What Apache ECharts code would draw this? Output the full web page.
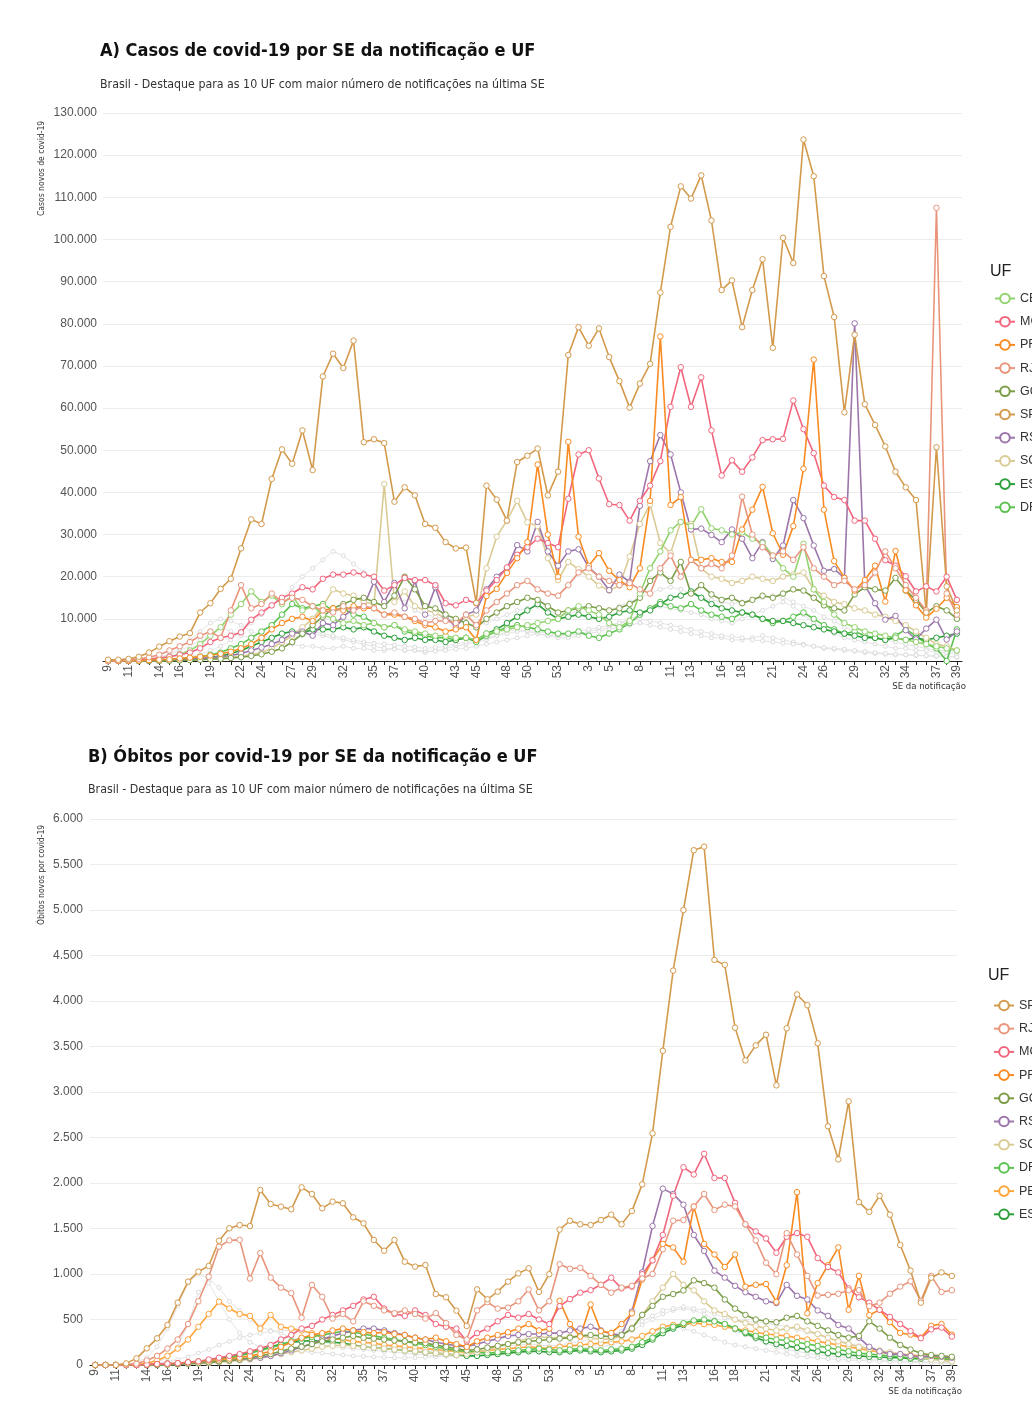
<!DOCTYPE html>
<html><head><meta charset="utf-8">
<script src="https://cdn.jsdelivr.net/npm/echarts@6/dist/echarts.min.js"></script>
<style>
html,body{margin:0;padding:0;background:#fff;}
#a{position:absolute;left:0;top:0;width:1032px;height:709px;}
#b{position:absolute;left:0;top:709px;width:1032px;height:709px;}
</style>
</head><body><div id="a"></div><div id="b"></div>
<script>
// ---- categories (epidemiological weeks) ----
const weeks2020 = [9,10,11,12,13,14,15,16,17,18,19,20,21,22,23,24,25,26,27,28,29,30,31,32,33,34,35,36,37,38,39,40,41,42,43,44,45,46,47,48,49,50,51,52,53];
const weeks2021 = [1,2,3,4,5,6,7,8,9,10,11,12,13,14,15,16,17,18,19,20,21,22,23,24,25,26,27,28,29,30,31,32,33,34,35,36,37,38,39];
const tickLabels2020 = [9,11,14,16,19,22,24,27,29,32,35,37,40,43,45,48,50,53];
const tickLabels2021 = [3,5,8,11,13,16,18,21,24,26,29,32,34,37,39];
const yTicksCasos = [0,10000,130000];
const yTicksObitos = [0,500,6000];

// ---- A) Casos ----
const casosCE = [0,0,50,100,300,600,1000,1600,2500,4000,6000,8000,11000,13500,16500,14000,15500,13500,15500,12000,13000,11000,10000,9000,9500,8500,9000,8000,8500,7500,7000,6500,6000,6000,5500,5500,5000,6500,7000,7500,8000,8500,9000,9500,10000,
 12000,13000,12000,11000,9000,8000,9500,16000,22000,26000,31000,33000,32000,36000,31500,31000,30000,30500,29000,28000,25000,22000,20000,27800,17000,14000,11000,9000,8000,7000,6500,6000,5500,5000,4500,4000,3500,3000,2500];
const casosMG = [0,0,100,200,400,700,1000,1500,2000,3000,4500,5500,6000,6800,9800,11500,13200,15000,16000,17500,17000,19500,20500,20500,21000,20500,20000,16700,18000,19700,19200,19200,18000,13700,13200,14500,13700,16700,19200,22200,25200,27000,29000,28000,27000,
 38500,49000,50000,43300,37200,37000,33300,38000,41600,47400,60300,69700,60300,67300,54700,44000,47600,44900,48300,52400,52600,52700,61800,55000,49300,41600,38900,38200,33300,33300,29000,23900,22600,20100,16500,17700,16500,20000,14500];
const casosPR = [0,0,50,100,200,300,400,600,800,1000,1300,1700,2200,3000,4000,5500,7500,9000,10000,10500,9500,12000,12500,12000,13000,12500,12500,11000,11000,10500,9500,8500,8000,7000,7500,8000,5000,15400,17100,20900,24400,28200,46600,30000,20000,
 52000,29500,22600,25600,21400,19200,17500,22000,38000,77000,37000,38900,24000,24000,24400,23500,23500,31200,35900,41300,30300,25200,32000,45600,71500,35900,23700,19700,16700,19200,22600,14100,26100,16800,13200,10300,12400,15000,12800];
const casosRJ = [0,100,200,500,900,1500,2500,3500,4500,6000,7000,5500,12000,18000,12500,13500,16000,14000,15000,14500,13000,12000,11500,13000,12000,13000,12500,11000,11500,10500,10000,9000,9500,9500,9000,11000,8500,12000,14000,16000,18000,19000,17000,16000,15500,
 18000,21000,22000,20000,19000,18000,18500,17000,16000,22000,25000,20000,24000,22000,23000,22000,25000,39000,30000,27000,25000,26000,24000,27000,22000,20000,18000,19000,17000,18000,21000,26000,22000,18000,15000,12000,107500,16000,11000];
const casosGO = [0,0,0,0,0,50,100,150,200,300,400,500,700,900,1200,1600,2200,3000,4500,6500,8500,10500,12500,13500,14500,15000,14000,13000,15500,20000,17000,13000,12500,11000,10000,9000,8000,10000,11500,13000,14000,15000,14500,13000,11500,
 12000,12500,13000,12500,12000,12500,13500,15000,19000,21000,19000,23500,16000,18000,15800,14500,15000,13700,14500,15500,15000,16000,17000,16700,15000,13200,12500,12000,15800,17500,17000,16700,19700,16700,14500,11500,13000,12000,10000];
const casosSP = [300,300,500,1000,2000,3400,4700,5800,6600,11500,13700,17100,19500,26700,33600,32500,43200,50200,46800,54700,45300,67500,72900,69500,76000,51900,52600,51700,37800,41200,39300,32500,31600,28200,26700,26900,13800,41600,38300,33300,47200,48700,50400,39300,44900,
 72600,79200,74800,78900,72100,66400,60100,65800,70500,87400,103000,112600,109700,115200,104500,88000,90300,79200,88000,95300,74300,100400,94400,123700,115000,91300,81600,59000,77400,60900,56000,50900,44900,41200,38200,11500,50700,17700,12000];
const casosRS = [0,0,0,50,100,150,200,300,400,600,800,1000,1300,1800,2500,3200,4000,5000,6500,7000,6000,9000,8500,10500,12500,13000,18800,14000,18500,12500,19000,11000,17500,10500,8000,11000,12000,17000,20000,22000,27500,26000,33000,26000,22600,
 26000,26500,22200,20000,16800,20500,18800,36800,47400,53600,49000,40000,31200,31400,29900,28200,31200,29000,24400,28200,24200,27400,38200,33900,27400,21400,21800,19700,80100,18000,13700,9800,10700,7300,5100,7700,9800,5100,7000];
const casosSC = [0,0,0,0,50,100,150,200,300,400,500,700,900,1200,1500,2000,3000,4500,6000,8000,10000,13000,17000,16000,15500,14000,13500,42000,14000,16500,13000,12000,11500,10000,9000,10500,11000,22000,29500,33300,38000,32900,32000,24400,19200,
 23500,21800,20000,17900,16700,17900,24800,32500,37200,28000,25600,33000,32500,22000,20000,19500,18500,19000,20000,19500,19000,20000,20500,21000,17000,15500,14000,13500,12500,12000,11000,10500,9500,8500,7000,5500,4000,3500,2500];
const casosES = [0,0,0,0,0,50,100,200,300,500,800,1200,1800,2500,3500,4500,5500,6500,7000,6500,7500,7500,7500,8000,7500,8000,7000,6000,5500,5000,5500,5000,5000,4500,5000,5500,5000,6500,7500,9000,10500,12000,13500,11500,10000,
 10500,11000,10500,10000,10500,11500,12000,11500,12000,13500,15000,15500,16500,15000,13500,12500,12000,11500,11000,10000,9500,9500,9000,8500,8000,7500,7000,6500,6000,5500,5500,5000,5500,5000,5500,5000,5500,6000,6500];
const casosDF = [0,0,0,50,100,200,300,500,700,1000,1500,2000,3000,4000,5500,7000,8500,11000,13500,12500,13000,13500,12000,12500,11000,10500,9000,8000,8500,7000,6500,6000,5500,5500,5000,5500,4500,6000,7000,8000,8500,8000,7500,7000,6500,
 6500,7000,6000,5500,6500,7500,9000,11000,12500,14000,13000,12500,13500,12000,11000,10500,10000,11500,11000,10000,9000,9500,10500,11500,10000,8500,7500,6500,7000,6000,5500,5000,6000,7500,6000,4000,3000,0,7500];
// other UF (grey background)
const casosBA = [0,0,0,0,100,200,400,700,1000,1500,2500,3500,5000,7000,9000,11000,13000,15000,17500,20000,22000,24000,26000,25000,23000,21000,19000,17000,15000,14000,12000,11000,10500,10000,9500,9000,8500,9000,10000,11000,12000,12500,13000,12000,11000,
 11000,12000,13000,12500,12000,13000,14000,15000,16000,17000,17500,17000,16000,15000,14500,14000,13500,14000,14500,15000,15500,15000,14000,13000,12000,10500,9500,8000,7000,6000,5500,5000,4500,4000,3500,3000,2500,2500,2000];
const casosPE = [0,0,100,300,600,1000,1500,2500,3500,5000,6500,8000,7000,6000,5500,5000,4500,4000,4000,3500,3500,3000,3000,3500,3000,3000,2500,2500,3000,2500,2500,2000,2500,3000,3500,4000,4500,5000,6000,7000,7500,7000,6500,6000,6000,
 6000,6500,7000,7500,8000,9000,10000,11000,12000,13000,12500,12000,11500,11000,10000,9500,9000,10000,11000,12000,13000,14000,13000,11000,9000,7500,6500,5500,5000,4500,4000,3500,3000,3000,2500,2500,2000,2000,1500];
const casosPA = [0,0,0,100,300,700,1500,3000,5000,7000,9000,10000,9500,8500,7000,6000,5500,5000,5500,6000,6500,6000,5500,5000,4500,4000,3500,3000,2800,2600,2500,2400,2300,2500,2800,3000,3500,4000,4500,5000,5500,6000,6500,6000,5500,
 5500,6000,6500,7000,7500,8000,8500,9000,8500,8000,7500,7000,6500,6000,5500,5500,5000,5000,5500,6000,5500,5000,4500,4000,3500,3000,2800,2500,2300,2000,1800,1600,1500,1400,1300,1200,1100,1000,900];
const casosMT = [0,0,0,0,0,50,100,200,300,500,800,1200,1800,2500,3500,4500,5500,6500,7000,7500,7000,6500,6000,5500,5000,4500,4200,4000,3800,3500,3300,3000,3200,3500,4000,4500,5000,5500,6000,6500,7000,7200,7000,6500,6000,
 6500,7000,7500,8000,8500,9000,9500,10000,9500,9000,8500,8000,7500,7000,6500,6000,5800,5500,5000,4800,4500,4200,4000,3800,3500,3200,3000,2800,2500,2300,2000,1800,1600,1500,1400,1300,1200,1100,1000];

// ---- B) Óbitos ----
const obitosSP = [0,0,0,18,73,183,293,440,685,916,1026,1088,1366,1502,1538,1527,1923,1769,1740,1711,1952,1879,1722,1795,1777,1623,1557,1374,1256,1374,1135,1081,1099,780,744,597,429,831,722,806,916,1007,1062,803,998,
 1488,1585,1546,1539,1593,1652,1546,1691,1985,2545,3453,4334,5000,5657,5696,4451,4397,3707,3347,3512,3629,3073,3700,4072,3954,3535,2623,2259,2897,1789,1683,1860,1652,1319,1037,685,959,1018,979];
const obitosRJ = [0,0,0,5,15,50,100,180,280,450,700,970,1300,1370,1375,950,1230,960,850,790,520,880,750,510,560,480,700,650,600,570,600,560,510,570,460,330,280,600,690,620,630,700,830,600,700,
 1108,1057,1068,979,881,795,850,870,950,1000,1272,1585,1593,1742,1879,1703,1762,1742,1546,1370,1124,998,1449,1214,979,763,771,783,822,822,646,685,783,861,920,705,979,803,822];
const obitosMG = [0,0,0,0,0,5,10,15,20,30,40,60,80,100,120,150,180,220,280,330,400,430,500,550,600,650,720,750,620,560,540,600,550,450,420,400,260,350,400,480,550,520,560,500,450,
 646,724,795,822,881,959,842,861,998,1150,1429,1860,2173,2094,2321,2055,2055,1781,1546,1468,1390,1233,1409,1449,1409,1174,1077,1018,842,744,685,607,528,450,372,294,391,411,313];
const obitosPR = [0,0,0,0,0,5,10,15,20,30,40,50,60,70,80,100,120,150,200,250,300,330,350,380,400,380,360,350,360,340,330,300,280,300,260,230,200,260,300,330,360,400,450,380,400,
 705,450,313,665,372,352,450,568,940,1155,1331,1292,1135,1742,1331,1214,1077,1214,861,881,889,693,1096,1899,568,900,1096,1292,607,979,548,607,470,352,333,301,430,450,333];
const obitosGO = [0,0,0,0,0,0,0,5,10,15,20,30,40,50,60,80,100,120,150,180,200,230,260,280,300,320,300,290,280,270,260,250,240,220,200,180,160,170,190,210,230,250,260,270,280,
 290,300,320,330,320,310,330,400,550,650,750,780,820,930,900,850,720,620,550,500,480,470,520,540,480,430,380,330,300,320,480,400,300,220,170,130,110,100,90];
const obitosRS = [0,0,0,0,0,0,5,10,15,20,25,30,40,50,60,70,80,100,130,160,200,230,280,320,350,380,400,400,380,350,330,300,280,250,230,210,200,230,260,290,320,330,340,340,350,
 350,380,400,420,380,340,330,587,1018,1527,1938,1879,1762,1429,1253,1037,960,870,800,750,700,680,880,760,720,600,540,440,400,300,200,150,120,120,100,90,100,90,80];
const obitosSC = [0,0,0,0,0,0,0,0,5,10,15,20,30,40,50,60,80,100,120,140,160,180,200,210,220,210,200,190,180,170,160,150,140,130,120,110,120,140,170,200,230,260,290,310,300,
 300,310,320,300,280,290,320,400,550,700,850,1000,880,820,700,600,560,500,460,430,400,380,400,420,380,340,300,260,230,200,180,160,140,120,100,80,60,50,40];
const obitosDF = [0,0,0,0,0,5,10,15,20,30,40,50,60,80,100,130,160,190,220,260,290,310,330,350,370,360,340,320,300,280,260,240,220,200,180,160,150,140,130,140,150,160,170,180,170,
 160,170,180,170,160,170,180,200,250,300,380,420,460,490,500,480,450,400,360,320,300,280,270,250,230,210,190,170,150,130,120,110,100,90,80,80,70,70,60];
const obitosPE = [0,0,0,0,5,20,50,100,180,280,420,560,696,620,560,540,400,550,420,400,380,350,300,290,280,260,250,240,220,210,200,190,180,170,160,150,140,150,160,170,180,190,200,190,180,
 200,210,220,230,240,250,260,280,320,370,420,440,450,460,450,440,420,400,380,360,340,330,320,300,280,260,240,220,200,180,160,140,130,120,110,100,90,80,70];
const obitosES = [0,0,0,0,0,0,0,5,10,20,30,50,70,90,110,140,170,200,230,250,260,270,260,250,240,220,200,190,180,170,160,150,140,130,120,110,100,100,110,120,130,140,150,150,140,
 140,150,160,150,140,150,160,180,220,280,350,400,440,470,490,480,450,400,350,300,260,230,210,190,170,150,130,120,110,100,90,90,80,80,70,70,70,60,60];
// other UF (grey background)
const obitosCE = [0,0,0,10,30,80,200,400,650,900,1000,950,850,700,600,500,420,380,350,300,280,250,220,200,190,180,170,160,150,140,130,120,110,100,100,100,110,120,130,140,150,160,170,160,150,
 150,160,180,200,230,270,320,380,440,500,560,600,620,600,560,500,440,380,330,280,240,200,170,150,130,110,100,90,80,70,60,55,50,45,40,35,30,30,25];
const obitosBA = [0,0,0,0,5,10,20,40,60,90,130,170,220,260,300,330,350,370,380,380,370,350,330,300,280,260,240,220,200,190,180,170,160,150,150,160,170,180,190,200,210,220,230,220,210,
 220,240,260,280,300,330,370,420,480,540,600,620,640,620,600,560,520,500,480,470,460,440,420,390,360,330,300,270,240,210,180,160,140,120,100,90,80,70,60];
const obitosPA = [0,0,0,0,0,10,30,80,200,450,800,900,700,500,350,250,200,180,170,160,150,140,130,120,110,100,95,90,85,80,80,80,85,90,95,100,110,120,130,140,150,160,170,160,150,
 150,160,170,180,200,220,250,280,320,360,400,420,400,370,330,290,250,220,200,180,160,140,120,100,90,80,70,60,55,50,45,40,35,30,30,25,25,20,20];

const COLORS = {CE:'#93d36f', MG:'#f2667d', PR:'#f98b22', RJ:'#e8957c', GO:'#7b9d47', SP:'#d39a4c', RS:'#9c76aa', SC:'#dacb95', ES:'#2d9f3a', DF:'#5cc24f', PE:'#ffa53c'};
const GREY = '#e4e4e4';
const FONT_T = "'DejaVu Sans Condensed','Liberation Sans Narrow',sans-serif";
const FONT = "'Liberation Sans',Arial,sans-serif";

const categories = weeks2020.map(w => '2020-' + w).concat(weeks2021.map(w => '2021-' + w));
const shown = new Set(tickLabels2020.map(w => '2020-' + w).concat(tickLabels2021.map(w => '2021-' + w)));
const fmtNum = v => String(v).replace(/\B(?=(\d{3})+(?!\d))/g, '.');

function lineSeries(name, data, color, grey) {
  return {
    type: 'line', name: name, data: data, symbol: 'circle',
    symbolSize: grey ? 4 : 5.5, showSymbol: true, silent: true,
    lineStyle: {width: grey ? 1 : 1.6, color: color},
    itemStyle: {color: '#fff', borderColor: grey ? '#dcdcdc' : color, borderWidth: 1},
    emphasis: {disabled: true}, z: grey ? 1 : 3, animation: false
  };
}

function buildOption(cfg) {
  return {
    animation: false,
    backgroundColor: '#fff',
    title: [
      {text: cfg.title, left: cfg.titleLeft, top: cfg.titleTop, padding: 0, textStyle: {fontFamily: FONT_T, fontWeight: 'bold', fontSize: 18, color: '#111'}},
      {text: cfg.subtitle, left: cfg.titleLeft, top: cfg.subTop, padding: 0, textStyle: {fontFamily: FONT_T, fontWeight: 'normal', fontSize: 12.3, color: '#333'}}
    ],
    grid: {left: cfg.gridLeft, right: cfg.gridRight, top: cfg.gridTop, bottom: cfg.gridBottom, containLabel: false},
    legend: {
      orient: 'vertical', left: cfg.legendLeft, top: cfg.legendTop, padding: 0,
      itemWidth: cfg.legendItemWidth, itemHeight: 12, itemGap: 10.2,
      data: cfg.legend, selectedMode: false,
      textStyle: {fontFamily: FONT, fontSize: 12.5, color: '#333', lineHeight: 12}
    },
    graphic: [
      {type: 'text', left: cfg.ufLeft, top: cfg.ufTop, style: {text: 'UF', fontFamily: FONT, fontSize: 16, fill: '#222'}},
      {type: 'text', x: cfg.yNameX, y: cfg.yNameY, rotation: Math.PI / 2,
        style: {text: cfg.yName, fontFamily: FONT_T, fontSize: 8.5, fill: '#333', textAlign: 'left', textVerticalAlign: 'middle'}},
      {type: 'text', x: cfg.xNameX, y: cfg.xNameY,
        style: {text: 'SE da notificação', fontFamily: FONT_T, fontSize: 9.5, fill: '#333', textAlign: 'right', textVerticalAlign: 'middle'}}
    ],
    xAxis: {
      type: 'category', data: categories, boundaryGap: true,
      axisLine: {show: true, lineStyle: {color: '#222', width: 1}},
      axisTick: {show: true, interval: 0, alignWithLabel: true, length: 4, lineStyle: {color: '#222'}},
      axisLabel: {interval: (i, v) => shown.has(v), rotate: 90, margin: 4, fontFamily: FONT, fontSize: 12, color: '#555',
        formatter: v => v.split('-')[1]},
      splitLine: {show: false}
    },
    yAxis: {
      type: 'value', min: cfg.yTicks[0], max: cfg.yTicks[2], interval: cfg.yTicks[1],
      axisLine: {show: false}, axisTick: {show: false},
      splitLine: {show: true, lineStyle: {color: '#ececec', width: 1}},
      axisLabel: {showMinLabel: cfg.showZero, margin: cfg.yLabelMargin, fontFamily: FONT, fontSize: 12, color: '#555', formatter: fmtNum}
    },
    series: cfg.series
  };
}

const chartA = echarts.init(document.getElementById('a'), null, {renderer: 'canvas'});
chartA.setOption(buildOption({
  title: 'A) Casos de covid-19 por SE da notificação e UF',
  subtitle: 'Brasil - Destaque para as 10 UF com maior número de notificações na última SE',
  titleLeft: 100, titleTop: 42, subTop: 79,
  gridLeft: 103, gridRight: 70, gridTop: 113, gridBottom: 48,
  legendLeft: 994, legendTop: 292, legendItemWidth: 20, ufLeft: 990, ufTop: 264,
  legend: ['CE','MG','PR','RJ','GO','SP','RS','SC','ES','DF'],
  yName: 'Casos novos de covid-19', yNameX: 42, yNameY: 216,
  xNameX: 966, xNameY: 687,
  yTicks: yTicksCasos, showZero: false, yLabelMargin: 6,
  series: [
    lineSeries('BA', casosBA, GREY, true), lineSeries('PE', casosPE, GREY, true),
    lineSeries('PA', casosPA, GREY, true), lineSeries('MT', casosMT, GREY, true),
    lineSeries('DF', casosDF, COLORS.DF), lineSeries('ES', casosES, COLORS.ES),
    lineSeries('SC', casosSC, COLORS.SC), lineSeries('RS', casosRS, COLORS.RS),
    lineSeries('GO', casosGO, COLORS.GO), lineSeries('CE', casosCE, COLORS.CE),
    lineSeries('MG', casosMG, COLORS.MG), lineSeries('PR', casosPR, COLORS.PR),
    lineSeries('RJ', casosRJ, COLORS.RJ), lineSeries('SP', casosSP, COLORS.SP)
  ]
}));

const chartB = echarts.init(document.getElementById('b'), null, {renderer: 'canvas'});
chartB.setOption(buildOption({
  title: 'B) Óbitos por covid-19 por SE da notificação e UF',
  subtitle: 'Brasil - Destaque para as 10 UF com maior número de notificações na última SE',
  titleLeft: 88, titleTop: 39, subTop: 75,
  gridLeft: 90, gridRight: 75, gridTop: 110, gridBottom: 53,
  legendLeft: 993, legendTop: 290, legendItemWidth: 20, ufLeft: 988, ufTop: 259,
  legend: ['SP','RJ','MG','PR','GO','RS','SC','DF','PE','ES'],
  yName: 'Óbitos novos por covid-19', yNameX: 42, yNameY: 216,
  xNameX: 962, xNameY: 683,
  yTicks: yTicksObitos, showZero: true, yLabelMargin: 7,
  series: [
    lineSeries('CE', obitosCE, GREY, true), lineSeries('BA', obitosBA, GREY, true),
    lineSeries('PA', obitosPA, GREY, true),
    lineSeries('ES', obitosES, COLORS.ES), lineSeries('PE', obitosPE, COLORS.PE),
    lineSeries('DF', obitosDF, COLORS.DF), lineSeries('SC', obitosSC, COLORS.SC),
    lineSeries('RS', obitosRS, COLORS.RS), lineSeries('GO', obitosGO, COLORS.GO),
    lineSeries('PR', obitosPR, COLORS.PR), lineSeries('MG', obitosMG, COLORS.MG),
    lineSeries('RJ', obitosRJ, COLORS.RJ), lineSeries('SP', obitosSP, COLORS.SP)
  ]
}));
</script>
</body></html>
